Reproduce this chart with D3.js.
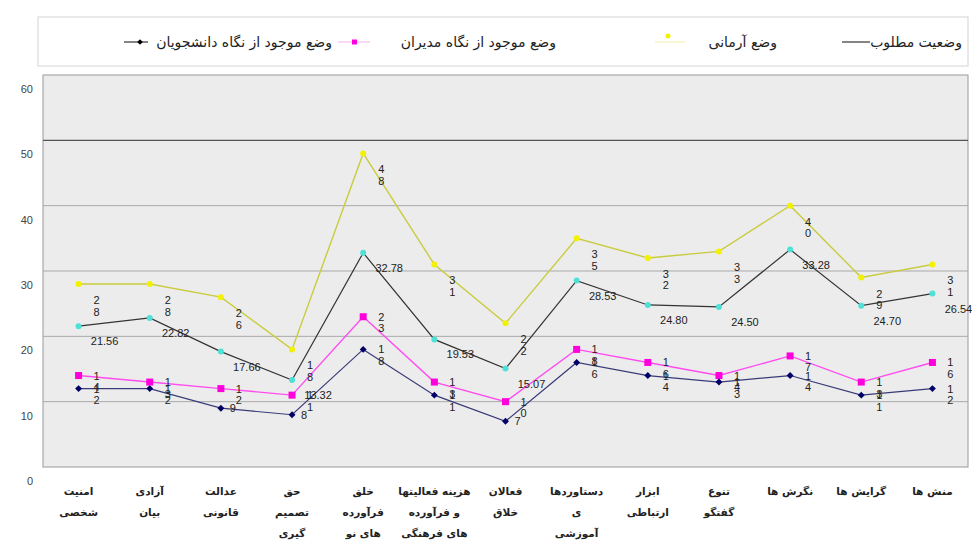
<!DOCTYPE html>
<html>
<head>
<meta charset="utf-8">
<script src="https://cdn.jsdelivr.net/npm/d3@7"></script>
<style>
  body { margin: 0; background: #fff; }
  svg { display: block; }
</style>
</head>
<body>
<div id="chart"></div>
<script>

// categories, left to right, label lines split by "|"
var categories = [
  "امنیت|شخصی",
  "آزادی|بیان",
  "عدالت|قانونی",
  "حق|تصمیم|گیری",
  "خلق|فرآورده|های نو",
  "هزینه فعالیتها|و فرآورده|های فرهنگی",
  "فعالان|خلاق",
  "دستاوردها|ی|آموزشی",
  "ابزار|ارتباطی",
  "تنوع|گفتگو",
  "نگرش ها",
  "گرایش ها",
  "منش ها"
];

var desiredValues  = [21.56, 22.82, 17.66, 13.32, 32.78, 19.53, 15.07, 28.53, 24.80, 24.50, 33.28, 24.70, 26.54];
var idealValues    = [28, 28, 26, 18, 48, 31, 22, 35, 32, 33, 40, 29, 31];
var managerValues  = [14, 13, 12, 11, 23, 13, 10, 18, 16, 14, 17, 13, 16];
var studentValues  = [12, 12, 9, 8, 18, 11, 7, 16, 14, 13, 14, 11, 12];

var yTicks = [0, 10, 20, 30, 40, 50, 60];

var seriesNames = [
  "وضعیت مطلوب",
  "وضع آرمانی",
  "وضع موجود از نگاه مدیران",
  "وضع موجود از نگاه دانشجویان"
];

var svg_width = 972;
var svg_height = 544;
var plot_left = 43, plot_right = 968, plot_top = 75, plot_bottom = 467;
var fa_font = "'DejaVu Sans', sans-serif";
var num_font = "'Liberation Sans', Arial, sans-serif";

var x = d3.scaleBand()
          .domain(categories)
          .range([plot_left, plot_right]);

var y = d3.scaleLinear()
          .domain([0, 60])
          .range([plot_bottom, plot_top]);

function cx(d, i) { return x(categories[i]) + x.bandwidth() / 2; }

var svg = d3.select('#chart')
            .append('svg')
            .attr('width', svg_width)
            .attr('height', svg_height);

// legend box
svg.append('rect')
   .attr('x', 38).attr('y', 17)
   .attr('width', 930).attr('height', 49)
   .attr('fill', '#fff')
   .attr('stroke', '#d4d4d4');

// plot area
svg.append('rect')
   .attr('x', plot_left).attr('y', plot_top)
   .attr('width', plot_right - plot_left).attr('height', plot_bottom - plot_top)
   .attr('fill', '#ececec')
   .attr('stroke', '#9a9a9a');

svg.append('g')
   .selectAll('line')
   .data(yTicks.filter(function(t) { return t > 0 && t < 60; }))
   .enter()
     .append('line')
     .attr('x1', plot_left).attr('x2', plot_right)
     .attr('y1', function(d) { return y(d); })
     .attr('y2', function(d) { return y(d); })
     .attr('stroke', function(d) { return d == 50 ? '#555' : '#a9a9a9'; })
     .attr('stroke-width', function(d) { return d == 50 ? 1.3 : 1; });

// y axis labels sit a bit below their gridlines in the original
var axis = d3.axisLeft(y).tickValues(yTicks).tickSize(0).tickPadding(0);
var axisG = svg.append('g')
   .attr('transform', 'translate(33, 14)')
   .call(axis);
axisG.select('.domain').remove();
axisG.selectAll('text')
   .attr('fill', '#444')
   .style('font', '11px ' + num_font);

// x labels
var xl = svg.append('g')
   .selectAll('text')
   .data(categories)
   .enter()
     .append('text')
     .attr('text-anchor', 'middle')
     .attr('fill', '#222')
     .style('font-family', fa_font)
     .style('font-weight', 'bold')
     .style('font-size', '10.5px');
xl.each(function(d, i) {
  var t = d3.select(this);
  d.split('|').forEach(function(line, k) {
    t.append('tspan')
     .attr('x', cx(d, i))
     .attr('y', 495 + k * 21)
     .text(line);
  });
});

var line = d3.line()
             .x(function(d, i) { return cx(d, i); })
             .y(function(d) { return y(d); });

function drawLine(values, color, width) {
  svg.append('path')
     .datum(values)
     .attr('d', line)
     .attr('fill', 'none')
     .attr('stroke', color)
     .attr('stroke-width', width);
}

drawLine(idealValues, '#c9cc3f', 1.4);
drawLine(desiredValues, '#333333', 1.2);
drawLine(managerValues, '#ff4cf0', 1.4);
drawLine(studentValues, '#3a3a78', 1.2);

function drawCircles(values, color, r) {
  svg.append('g')
     .selectAll('circle')
     .data(values)
     .enter()
       .append('circle')
       .attr('cx', cx)
       .attr('cy', function(d) { return y(d); })
       .attr('r', r)
       .attr('fill', color);
}

drawCircles(idealValues, '#f2f200', 3);
drawCircles(desiredValues, '#4fe0d8', 3);

svg.append('g')
   .selectAll('rect')
   .data(managerValues)
   .enter()
     .append('rect')
     .attr('x', function(d, i) { return cx(d, i) - 3.5; })
     .attr('y', function(d) { return y(d) - 3.5; })
     .attr('width', 7).attr('height', 7)
     .attr('fill', '#ff00dd');

var smallDiamond = d3.symbol().type(d3.symbolSquare).size(24);
svg.append('g')
   .selectAll('path')
   .data(studentValues)
   .enter()
     .append('path')
     .attr('d', smallDiamond)
     .attr('transform', function(d, i) { return 'translate(' + cx(d, i) + ',' + y(d) + ') rotate(45)'; })
     .attr('fill', '#000066');

// value labels: whole numbers wrap into one digit per line
function stackedLabels(values, dx, dy) {
  var g = svg.append('g');
  values.forEach(function(v, i) {
    var digits = String(v).split('');
    var px = cx(v, i), py = y(v);
    var t = g.append('text')
             .attr('text-anchor', 'middle')
             .attr('fill', '#222')
             .style('font', '11px ' + num_font);
    if (digits.length == 1) {
      t.attr('x', px + 12).attr('y', py + 4).text(v);
      return;
    }
    digits.forEach(function(c, k) {
      t.append('tspan')
       .attr('x', px + dx)
       .attr('y', py + dy + 4 + k * 11.5)
       .text(c);
    });
  });
}

stackedLabels(idealValues, 18, 16);
stackedLabels(managerValues, 18, 0);
stackedLabels(studentValues, 18, 0);

svg.append('g')
   .selectAll('text')
   .data(desiredValues)
   .enter()
     .append('text')
     .attr('x', function(d, i) { return cx(d, i) + 26; })
     .attr('y', function(d) { return y(d) + 19; })
     .attr('text-anchor', 'middle')
     .attr('fill', '#222')
     .style('font', '11px ' + num_font)
     .text(function(d) { return d.toFixed(2); });

// legend
var lg = svg.append('g').style('font', '14px ' + fa_font).attr('fill', '#222');
var leg_y = 42;

lg.append('text').attr('x', 962).attr('y', leg_y + 5).attr('text-anchor', 'end').text(seriesNames[0]);
lg.append('line').attr('x1', 842).attr('x2', 870).attr('y1', leg_y).attr('y2', leg_y)
  .attr('stroke', '#333').attr('stroke-width', 1.2);

lg.append('text').attr('x', 777).attr('y', leg_y + 5).attr('text-anchor', 'end').text(seriesNames[1]);
lg.append('line').attr('x1', 655).attr('x2', 685).attr('y1', leg_y).attr('y2', leg_y)
  .attr('stroke', '#f4f4c0').attr('stroke-width', 1.4);
lg.append('circle').attr('cx', 668).attr('cy', leg_y - 6).attr('r', 2.5).attr('fill', '#f2f200');

lg.append('text').attr('x', 556).attr('y', leg_y + 5).attr('text-anchor', 'end').text(seriesNames[2]);
lg.append('line').attr('x1', 338).attr('x2', 370).attr('y1', leg_y).attr('y2', leg_y)
  .attr('stroke', '#f8c8f4').attr('stroke-width', 1.4);
lg.append('rect').attr('x', 352).attr('y', leg_y - 2.5).attr('width', 5).attr('height', 5).attr('fill', '#ff00dd');

lg.append('text').attr('x', 332).attr('y', leg_y + 5).attr('text-anchor', 'end').text(seriesNames[3]);
lg.append('line').attr('x1', 124).attr('x2', 148).attr('y1', leg_y).attr('y2', leg_y)
  .attr('stroke', '#333').attr('stroke-width', 1.2);
lg.append('path').attr('d', d3.symbol().type(d3.symbolSquare).size(16)())
  .attr('transform', 'translate(140,' + leg_y + ') rotate(45)').attr('fill', '#000');

</script>
</body>
</html>
